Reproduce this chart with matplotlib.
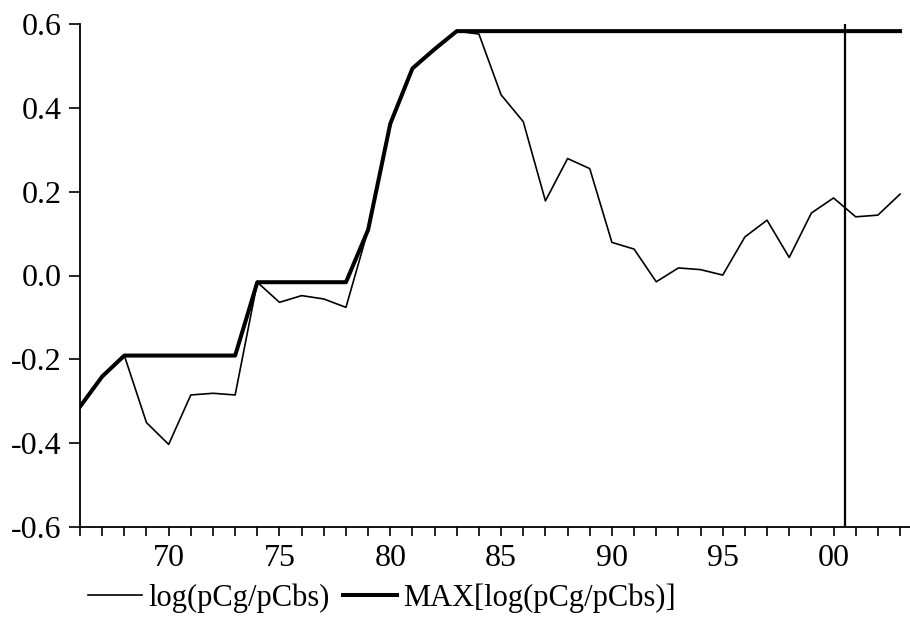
import matplotlib
matplotlib.use("Agg")
import matplotlib.pyplot as plt

plt.rcParams['font.family'] = ['Liberation Serif', 'DejaVu Serif']

# annual observations, 1966-2003
years = list(range(1966, 2004))
ratio = [-0.313, -0.241, -0.191, -0.351, -0.403, -0.285, -0.281, -0.285,
         -0.016, -0.064, -0.048, -0.056, -0.076, 0.109, 0.362, 0.494,
         0.540, 0.583, 0.576, 0.431, 0.367, 0.178, 0.279, 0.255,
         0.079, 0.063, -0.015, 0.018, 0.014, 0.001, 0.092, 0.132,
         0.043, 0.149, 0.185, 0.140, 0.144, 0.194]
ratio_max = [-0.313, -0.241, -0.191, -0.191, -0.191, -0.191, -0.191, -0.191,
             -0.016, -0.016, -0.016, -0.016, -0.016, 0.109, 0.362, 0.494,
             0.540, 0.583, 0.583, 0.583, 0.583, 0.583, 0.583, 0.583,
             0.583, 0.583, 0.583, 0.583, 0.583, 0.583, 0.583, 0.583,
             0.583, 0.583, 0.583, 0.583, 0.583, 0.583]
marker_year = 2000.5

xtick_years = [1970, 1975, 1980, 1985, 1990, 1995, 2000]
xtick_labels = ['70', '75', '80', '85', '90', '95', '00']
ytick_values = [-0.6, -0.4, -0.2, 0.0, 0.2, 0.4, 0.6]
ytick_labels = ['-0.6', '-0.4', '-0.2', '0.0', '0.2', '0.4', '0.6']

fig = plt.figure(figsize=(9.1, 6.17), dpi=100)
ax = fig.add_axes([80 / 910, 90 / 617, 830 / 910, 503 / 617])

ax.plot(years, ratio, color='black', lw=1.2, label='log(pCg/pCbs)')
ax.plot(years, ratio_max, color='black', lw=2.9, label='MAX[log(pCg/pCbs)]')
ax.axvline(marker_year, color='black', lw=1.6)

ax.set_xlim(1966, 2003.45)
ax.set_ylim(-0.6, 0.6)

ax.set_xticks(xtick_years)
ax.set_xticklabels(xtick_labels)
ax.set_xticks(years, minor=True)
ax.set_yticks(ytick_values)
ax.set_yticklabels(ytick_labels)

ax.tick_params(axis='x', which='both', direction='out', length=6.5, width=1.2,
               labelsize=23, pad=6)
ax.tick_params(axis='y', which='major', direction='out', length=8, width=1.2,
               labelsize=23, pad=5)

for side in ['top', 'right']:
    ax.spines[side].set_visible(False)
for side in ['left', 'bottom']:
    ax.spines[side].set_linewidth(1.3)

ax.legend(loc='center left', bbox_to_anchor=(88 / 910, 1 - 598 / 617),
          bbox_transform=fig.transFigure, ncol=2, frameon=False, fontsize=22,
          borderpad=0, borderaxespad=0, handlelength=1.77, handletextpad=0.2,
          columnspacing=0.45)

fig.savefig('out.png', dpi=100)
